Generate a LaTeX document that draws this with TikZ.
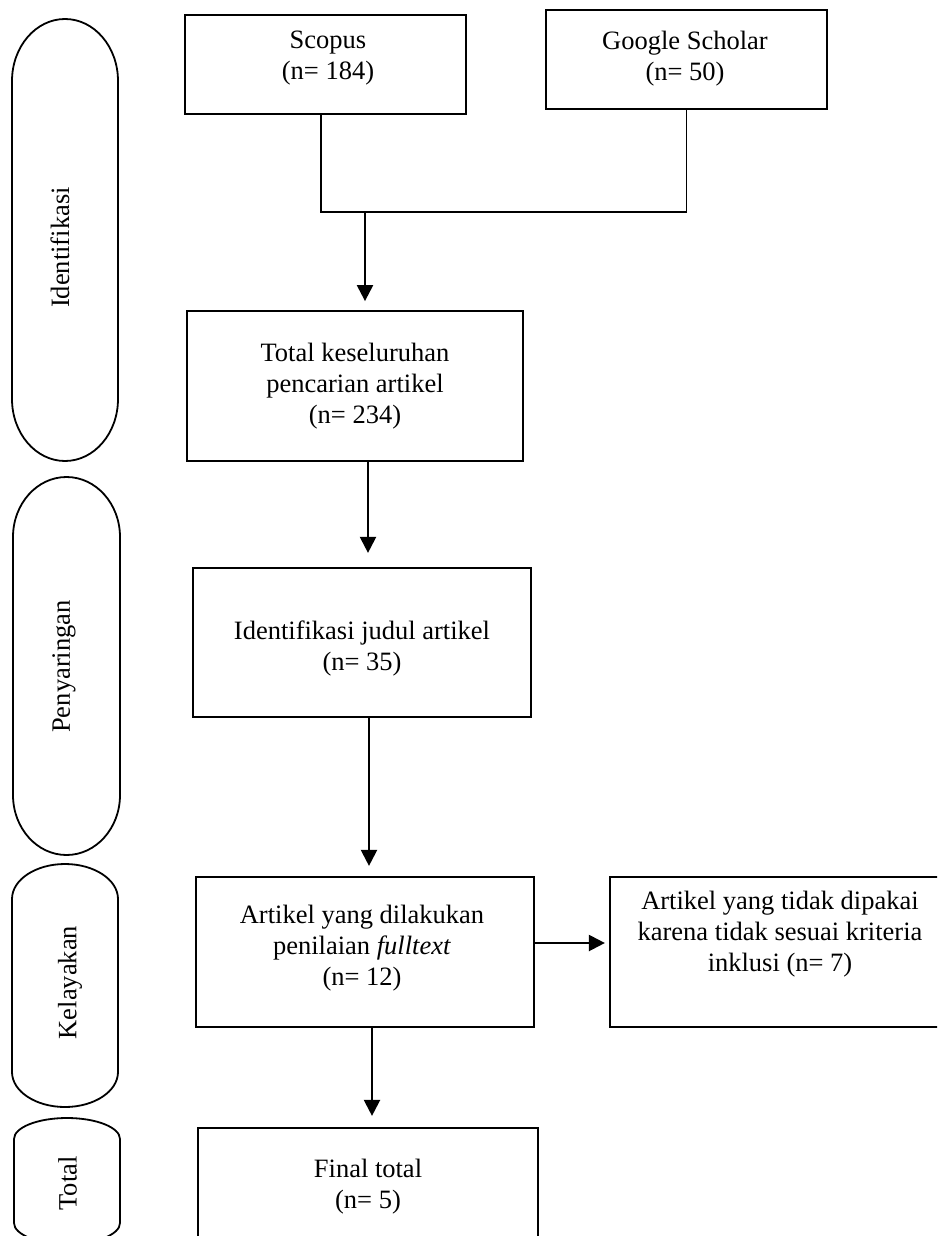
\documentclass[tikz,border=0pt]{standalone}
\usepackage{fontspec}
\setmainfont{Liberation Serif}
\usetikzlibrary{arrows.meta}
\newcommand\termshape[5]{% xl xr yt yb ry
  \draw[side] (#1,#3+#5) arc[start angle=180,end angle=360,x radius={(#2-#1)/2},y radius=#5]
    -- (#2,#4-#5) arc[start angle=0,end angle=180,x radius={(#2-#1)/2},y radius=#5] -- cycle;}
\tikzset{
  box/.style={draw, line width=1.8pt, rectangle, inner sep=0pt},
  txt/.style={align=center, inner sep=0pt, font=\fontsize{26.5}{31}\selectfont},
  side/.style={line width=1.8pt},
  vlab/.style={rotate=90, inner sep=0pt, font=\fontsize{26.5}{31}\selectfont},
  arr/.style={line width=2.2pt, -{Triangle[length=16pt,width=16pt]}},
  conn/.style={line width=1.8pt},
}
\begin{document}
\begin{tikzpicture}[x=1pt,y=-1pt]
\useasboundingbox (0,0) rectangle (937,1236);
\clip (0,0) rectangle (937,1236);
% side phase shapes
\termshape{12}{118}{19}{461}{62}
\termshape{13}{120}{477}{855}{60}
\termshape{12}{118}{864}{1107}{35}
\termshape{14}{120}{1118}{1244}{21}
\node[vlab] (l1) at (60,247.5) {Identifikasi};
\node[vlab] (l2) at (64,666.5) {Penyaringan};
\node[vlab] (l3) at (70,982.5) {Kelayakan};
\node[vlab] (l4) at (67.5,1183.5) {Total};
% boxes
\node[box, minimum width=281pt, minimum height=99pt] (sc) at (325.5,64.5) {};
\node[box, minimum width=281pt, minimum height=99pt] (gs) at (686.5,59.5) {};
\node[box, minimum width=336pt, minimum height=150pt] (tot) at (355,386) {};
\node[box, minimum width=338pt, minimum height=149pt] (idj) at (362,642.5) {};
\node[box, minimum width=338pt, minimum height=150pt] (ft) at (365,952) {};
\node[box, minimum width=340pt, minimum height=150pt] (ex) at (780,952) {};
\node[box, minimum width=340pt, minimum height=150pt] (fin) at (368,1203) {};
% texts
\node[txt] (sct) at (328,58.4) {Scopus\\(n= 184)};
\node[txt] (gst) at (685,58.4) {Google Scholar\\(n= 50)};
\node[txt] (tott) at (355,386) {Total keseluruhan\\pencarian artikel\\(n= 234)};
\node[txt] (idjt) at (362,648) {Identifikasi judul artikel\\(n= 35)};
\node[txt] (ftt) at (362,948) {Artikel yang dilakukan\\penilaian \textit{fulltext}\\(n= 12)};
\node[txt] (ext) at (780,934) {Artikel yang tidak dipakai\\karena tidak sesuai kriteria\\inklusi (n= 7)};
\node[txt] (fint) at (368,1187) {Final total\\(n= 5)};
% connectors
\coordinate (j) at (365,212);
\draw[conn] ([xshift=-4.5pt]sc.south) |- (gs.south |- j) -- (gs.south);
\draw[arr, shorten >=9pt] (j) -- (j |- tot.north);
\draw[arr] ([xshift=13pt]tot.south) -- ++(0,91);
\draw[arr] ([xshift=7pt]idj.south) -- ++(0,148);
\draw[arr] ([xshift=7pt]ft.south) -- ++(0,88);
\draw[arr] ([yshift=9pt]ft.east) -- ++(70,0);
\end{tikzpicture}
\end{document}
